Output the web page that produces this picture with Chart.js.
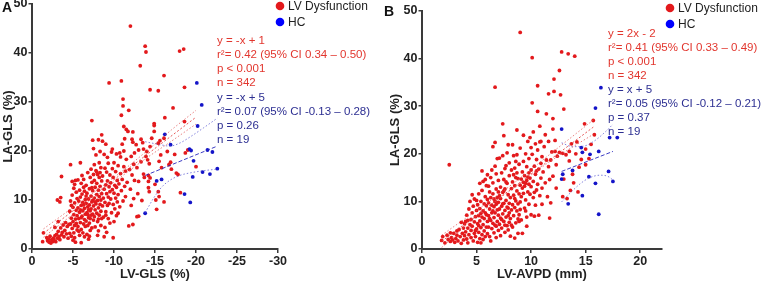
<!DOCTYPE html>
<html>
<head>
<meta charset="utf-8">
<script src="https://cdn.jsdelivr.net/npm/chart.js@4.4.1/dist/chart.umd.min.js"></script>
<style>
    body { margin: 0; background: #fff; width: 763px; height: 285px; overflow: hidden; position: relative; }
    canvas { position: absolute; top: 0; }
    #chartA { left: 0; }
    #chartB { left: 380px; }
</style>
</head>
<body>
<canvas id="chartA" width="380" height="285"></canvas>
<canvas id="chartB" width="383" height="285"></canvas>
<script>
// ======================
// Данные
// ======================

// Панель A: LV-GLS (%) против LA-GLS (%)
const lvdA = [
    [-1.3,1.5],[-1.4,3.3],[-1.8,2.3],[-1.9,1.7],[-2.0,2.0],[-2.1,1.4],[-2.2,2.6],[-2.3,1.2],[-2.4,1.9],[-2.5,1.5],
    [-2.6,2.2],[-2.7,1.8],[-2.8,2.7],[-2.9,1.5],[-3.0,3.0],[-3.1,2.2],[-3.2,3.6],[-3.3,2.5],[-3.4,1.9],[-3.5,4.3],
    [-3.6,2.9],[-3.7,3.4],[-3.8,4.9],[-3.9,2.5],[-4.0,3.8],[-4.1,5.4],[-4.2,3.1],[-4.3,4.6],[-4.4,2.2],[-4.5,5.0],
    [-3.1,10.0],[-3.4,9.6],[-3.6,14.8],[-3.5,10.5],[-3.2,5.6],[-2.8,4.4],
    [-4.6,3.2],[-4.6,7.7],[-4.7,5.1],[-4.7,9.8],[-4.8,2.6],[-4.8,6.3],[-4.9,4.2],[-4.9,11.0],[-5.0,5.6],[-5.0,8.5],
    [-5.1,3.3],[-5.1,7.0],[-5.1,12.4],[-5.2,4.8],[-5.2,9.4],[-5.3,6.1],[-5.3,1.4],[-5.3,14.0],[-5.4,7.9],[-5.4,5.2],
    [-5.5,10.3],[-5.5,3.9],[-5.5,6.8],[-4.7,17.2],[-5.2,13.2],[-4.9,13.8],[-5.0,1.8],[-5.4,11.6],[-4.8,8.9],[-5.2,2.3],
    [-5.6,8.4],[-5.6,4.6],[-5.6,14.1],[-5.7,6.2],[-5.7,9.8],[-5.8,2.8],[-5.8,7.5],[-5.8,12.0],[-5.9,5.4],[-5.9,17.6],
    [-5.9,10.6],[-6.0,1.3],[-6.0,8.9],[-6.0,4.0],[-6.0,13.4],[-6.1,6.7],[-6.1,11.2],[-6.2,3.3],[-6.2,7.8],[-6.2,9.5],
    [-6.3,5.1],[-6.3,14.2],[-6.3,12.6],[-6.4,8.3],[-6.4,6.0],[-6.4,2.5],[-6.5,10.1],[-6.5,4.6],[-6.5,7.1],[-6.1,15.0],
    [-5.7,3.6],[-6.3,9.0],[-6.0,6.4],[-5.9,8.0],[-6.4,11.8],
    [-6.6,9.3],[-6.6,5.7],[-6.6,13.0],[-6.7,7.4],[-6.7,3.0],[-6.7,11.4],[-6.8,8.6],[-6.8,4.8],[-6.8,15.6],[-6.9,6.4],
    [-6.9,10.2],[-6.9,2.0],[-7.0,9.0],[-7.0,12.3],[-7.0,5.3],[-7.1,7.8],[-7.1,14.6],[-7.1,3.8],[-7.2,10.8],[-7.2,6.9],
    [-7.2,8.2],[-7.3,9.6],[-7.3,4.3],[-7.3,26.2],[-7.3,13.6],[-7.4,22.2],[-7.4,7.1],[-7.4,11.9],[-7.5,20.5],[-7.5,8.8],
    [-7.5,5.9],[-7.5,15.2],[-6.8,7.0],[-7.0,2.6],[-7.2,16.3],[-7.4,9.9],[-6.6,10.8],[-7.1,6.2],[-7.3,12.5],[-6.9,8.0],
    [-7.6,10.4],[-7.6,6.6],[-7.6,14.0],[-7.7,8.0],[-7.7,12.6],[-7.7,4.5],[-7.8,9.2],[-7.8,16.0],[-7.8,19.2],[-7.9,7.3],
    [-7.9,11.1],[-7.9,13.4],[-8.0,5.6],[-8.0,9.9],[-8.0,15.2],[-8.1,8.4],[-8.1,12.0],[-8.1,22.3],[-8.1,3.7],[-8.2,6.9],
    [-8.2,10.7],[-8.2,14.6],[-8.3,19.9],[-8.3,9.1],[-8.3,12.8],[-8.4,7.7],[-8.4,16.6],[-8.4,4.8],[-8.5,11.3],[-8.5,23.3],
    [-8.5,13.9],[-8.5,6.2],[-7.6,17.2],[-8.0,2.8],[-8.2,17.6],[-7.9,15.7],[-8.4,10.0],[-7.7,9.6],[-8.1,6.1],[-8.3,15.6],
    [-8.6,8.8],[-8.6,22.0],[-8.6,14.9],[-8.7,10.4],[-8.7,6.5],[-8.8,12.2],[-8.8,19.3],[-8.9,16.5],[-8.9,9.5],[-8.9,4.4],
    [-9.0,13.1],[-9.0,7.6],[-9.0,21.4],[-9.1,11.3],[-9.1,15.7],[-9.1,3.4],[-9.2,8.9],[-9.2,13.9],[-9.3,10.6],[-9.3,6.2],
    [-9.3,17.5],[-9.4,12.7],[-9.4,33.9],[-9.4,9.3],[-9.5,15.1],[-9.5,5.3],[-9.5,11.7],[-8.8,2.5],[-9.2,18.7],[-9.0,6.9],
    [-9.6,13.5],[-9.6,10.2],[-9.7,19.8],[-9.7,7.4],[-9.8,16.4],[-9.8,12.1],[-9.8,20.4],[-9.9,14.6],[-9.9,9.1],[-9.9,2.3],
    [-10.0,11.4],[-10.0,17.6],[-10.0,5.6],[-10.1,13.0],[-10.1,8.2],[-10.2,15.8],[-10.2,10.4],[-10.3,19.4],[-10.3,12.6],[-10.3,6.8],
    [-10.4,14.0],[-10.4,9.6],[-10.5,17.0],[-10.5,11.1],[-10.5,7.3],
    [-10.6,13.3],[-10.7,19.6],[-10.7,8.6],[-10.8,15.4],[-10.8,18.8],[-10.9,34.3],[-10.9,11.9],[-10.9,27.3],[-11.0,14.2],[-11.0,21.4],
    [-11.1,30.6],[-11.1,29.2],[-11.1,9.8],[-11.2,16.8],[-11.2,25.0],[-11.2,20.0],[-11.3,12.8],[-11.4,15.9],[-11.4,10.7],[-11.5,24.4],
    [-11.5,18.3],[-11.3,22.5],
    [-11.6,13.6],[-11.7,24.0],[-11.8,28.3],[-11.8,4.7],[-11.9,16.2],[-12.0,45.5],[-12.0,12.2],[-12.1,18.9],[-12.2,22.4],[-12.2,15.1],
    [-12.3,23.9],[-12.3,21.8],[-12.3,5.0],[-12.4,17.3],[-12.4,10.3],[-12.5,14.0],[-12.5,19.6],[-12.1,8.9],
    [-12.7,21.3],[-12.8,16.6],[-12.8,6.6],[-13.0,20.2],[-13.0,13.8],[-13.2,37.4],[-13.3,22.4],[-13.3,17.8],[-13.5,21.7],[-13.6,20.4],
    [-13.6,15.3],[-13.8,41.4],[-13.9,40.2],[-13.9,18.9],[-13.0,6.7],[-13.7,14.6],[-13.4,9.9],[-12.9,11.3],
    [-14.0,19.9],[-14.1,18.2],[-14.2,15.0],[-14.2,13.8],[-14.2,12.5],[-14.3,11.7],[-14.3,17.4],[-14.4,20.9],[-14.4,32.5],[-14.4,14.5],
    [-14.9,24.0],[-14.9,25.6],[-14.9,25.2],[-15.1,10.0],[-15.2,8.1],[-15.4,32.3],[-15.4,21.6],[-15.5,10.7],[-15.5,17.9],[-15.6,22.1],
    [-15.7,19.2],[-15.4,11.7],[-15.8,16.6],[-14.6,22.6],[-15.0,13.2],
    [-16.1,35.4],[-16.1,9.6],[-16.1,22.6],[-16.2,26.8],[-16.5,19.9],[-16.7,17.2],[-16.9,17.7],[-17.0,16.3],[-17.2,28.8],[-17.4,19.3],
    [-17.6,15.5],[-17.8,15.2],[-18.0,40.4],[-18.1,11.5],[-18.5,40.8],[-18.6,33.0],[-18.6,26.0],[-18.7,19.6],[-19.0,20.2],[-20.0,16.8]
];
const hcA = [
    [-20.1,33.9],[-20.7,29.4],[-20.2,25.1],[-16.2,23.4],[-16.9,21.3],[-19.2,20.4],[-19.4,20.1],[-21.4,20.2],[-22.0,19.8],[-22.6,16.4],
    [-21.7,15.3],[-20.8,15.7],[-19.6,14.7],[-15.8,14.2],[-15.2,13.9],[-18.6,11.2],[-19.3,9.5],[-13.8,7.3],[-19.7,18.0]
];
// линии регрессии и 95% ДИ (по точкам с рисунка)
const regLvdA  = [[-1.4,3.2],[-20.0,26.9]];
const ciHiLvdA = [[-1.4,4.1],[-5,8.5],[-8,12.1],[-11,15.9],[-14,20.0],[-17,24.3],[-20,28.3]];
const ciLoLvdA = [[-1.4,2.4],[-5,7.1],[-8,11.1],[-11,14.9],[-14,18.6],[-17,22.0],[-20,25.5]];
const regHcA   = [[-13.8,15.0],[-22.6,21.0]];
const ciHiHcA  = [[-13.8,21.9],[-15.6,21.3],[-16.8,21.0],[-18.0,21.6],[-19.4,23.0],[-20.9,24.7],[-22.6,26.7]];
const ciLoHcA  = [[-13.8,7.4],[-14.8,10.3],[-15.8,12.6],[-16.8,14.0],[-18.0,15.0],[-19.5,15.6],[-21.0,16.0],[-22.6,16.3]];
const statsLvdA = ['y = -x + 1', 'r²= 0.42 (95% CI 0.34 – 0.50)', 'p < 0.001', 'n = 342'];
const statsHcA  = ['y = -x + 5', 'r²= 0.07 (95% CI -0.13 – 0.28)', 'p = 0.26', 'n = 19'];
const xTicksA = [0, -5, -10, -15, -20, -25, -30];

// Панель B: LV-AVPD (mm) против LA-GLS (%)
const lvdB = [
    [1.8,1.8],[1.9,2.6],[2.1,1.3],[2.3,2.9],[2.4,2.0],[2.5,17.7],[2.6,1.6],[2.7,2.4],[2.8,1.9],[2.9,3.3],
    [3.0,1.4],[3.1,2.2],[3.2,2.9],[3.3,1.7],[3.4,4.1],[3.5,2.6],[3.6,5.6],[3.7,3.3],[3.8,1.9],[3.9,5.3],
    [3.9,2.8],[3.6,1.2],[3.2,3.8],[2.6,3.4],[3.8,4.4],
    [4.0,3.6],[4.0,5.8],[4.1,2.1],[4.1,7.1],[4.2,4.4],[4.2,1.3],[4.3,3.0],[4.3,8.4],[4.4,5.1],[4.4,10.0],
    [4.5,2.4],[4.5,6.2],[4.5,3.9],[4.6,7.6],[4.6,4.8],[4.7,1.7],[4.7,9.0],[4.8,3.3],[4.8,5.7],[4.8,10.5],
    [4.9,6.8],[4.9,2.6],[5.0,4.2],[5.0,8.1],[5.0,10.2],[4.2,6.0],[4.6,11.4],[4.9,3.9],
    [5.1,5.3],[5.1,1.4],[5.1,9.3],[5.2,3.5],[5.2,7.0],[5.2,11.6],[5.3,2.2],[5.3,5.9],[5.3,8.5],[5.4,4.5],
    [5.4,10.0],[5.4,1.3],[5.5,6.7],[5.5,16.4],[5.5,3.0],[5.5,12.3],[5.6,8.0],[5.6,5.1],[5.6,14.2],[5.7,9.5],
    [5.7,3.8],[5.7,6.4],[5.8,11.0],[5.8,2.6],[5.8,7.6],[5.9,4.6],[5.9,13.3],[5.9,9.1],[6.0,5.8],[6.0,10.4],
    [6.0,3.2],[6.0,15.6],[5.6,2.0],[5.9,7.2],[5.3,13.8],[5.8,14.6],[5.4,7.5],[5.2,4.9],
    [6.1,7.0],[6.1,9.7],[6.1,4.6],[6.2,12.0],[6.2,2.6],[6.2,8.4],[6.3,6.0],[6.3,10.8],[6.3,15.0],[6.4,4.3],
    [6.4,7.6],[6.4,9.2],[6.5,21.5],[6.5,5.4],[6.5,11.6],[6.5,13.9],[6.6,8.9],[6.6,3.4],[6.6,6.6],[6.7,22.4],
    [6.7,34.0],[6.7,10.0],[6.7,17.4],[6.7,7.6],[6.8,9.4],[6.8,4.8],[6.8,12.6],[6.8,15.8],[6.9,8.2],[6.9,5.8],
    [6.9,10.8],[7.0,7.1],[7.0,9.8],[7.0,3.9],[7.0,14.4],[6.1,13.2],[6.3,1.7],[6.6,10.5],[6.9,19.0],[6.2,6.4],
    [6.4,16.6],[6.8,2.4],[6.5,8.0],[6.7,5.0],[7.0,12.0],
    [7.1,8.4],[7.1,19.1],[7.1,5.2],[7.2,10.6],[7.2,6.5],[7.2,13.0],[7.3,4.4],[7.3,9.0],[7.3,16.0],[7.4,7.4],
    [7.4,26.3],[7.4,11.9],[7.4,19.6],[7.5,5.8],[7.5,9.6],[7.5,14.6],[7.5,23.8],[7.6,8.1],[7.6,3.5],[7.6,12.6],
    [7.7,6.7],[7.7,10.2],[7.7,17.5],[7.8,8.8],[7.8,4.9],[7.8,13.8],[7.9,7.0],[7.9,11.4],[7.9,21.9],[8.0,9.6],
    [8.0,5.6],[8.0,15.4],[8.0,18.1],[7.2,2.8],[7.5,12.2],[7.8,20.2],[7.3,6.2],[7.6,16.9],[7.9,4.0],[7.4,9.5],
    [7.7,14.1],[8.0,7.6],[7.1,11.2],[7.6,5.0],[7.9,8.6],
    [8.1,6.4],[8.1,10.8],[8.1,2.7],[8.2,8.2],[8.2,12.7],[8.2,16.6],[8.3,9.3],[8.3,4.6],[8.3,14.1],[8.4,7.0],
    [8.4,11.3],[8.4,19.6],[8.5,8.7],[8.5,2.3],[8.5,13.3],[8.5,17.0],[8.6,10.1],[8.6,5.5],[8.6,15.0],[8.7,25.0],
    [8.7,8.0],[8.7,12.2],[8.7,19.8],[8.8,9.5],[8.8,6.3],[8.8,14.8],[8.9,11.6],[8.9,17.8],[8.9,7.2],[9.0,45.5],
    [9.0,13.4],[9.0,9.9],[9.0,21.2],[8.2,5.0],[8.4,15.6],[8.6,18.4],[8.8,3.3],[8.3,21.9],[8.9,5.8],[8.5,10.6],
    [8.7,16.0],[9.0,8.3],
    [9.1,14.7],[9.1,11.0],[9.1,6.1],[9.2,16.2],[9.2,12.8],[9.2,3.3],[9.3,14.0],[9.3,23.9],[9.3,18.4],[9.4,13.2],
    [9.4,8.6],[9.4,15.4],[9.5,13.8],[9.5,10.3],[9.5,20.0],[9.6,14.4],[9.6,17.3],[9.6,6.7],[9.7,12.0],[9.7,22.6],
    [9.7,15.1],[9.8,13.6],[9.8,9.4],[9.8,19.0],[9.9,14.9],[9.9,23.4],[9.9,11.5],[10.0,16.6],[10.0,13.1],[10.0,7.2],
    [10.0,21.3],[9.3,11.7],[9.6,4.8],[9.8,16.0],[9.5,8.0],
    [10.1,40.2],[10.1,30.7],[10.1,19.9],[10.2,14.2],[10.2,10.8],[10.3,17.4],[10.3,6.9],[10.4,22.1],[10.4,15.7],[10.5,12.4],
    [10.5,18.8],[10.6,34.3],[10.6,28.9],[10.6,20.8],[10.6,13.6],[10.7,7.1],[10.7,16.8],[10.8,11.2],[10.8,22.5],[10.9,22.6],
    [10.9,18.0],[10.9,14.9],[11.0,19.4],[11.0,9.4],[11.0,12.8],[10.2,24.6],[10.4,9.2],[10.8,25.8],[10.5,16.4],[10.3,11.9],
    [11.1,16.2],[11.2,21.5],[11.3,13.9],[11.4,28.4],[11.4,18.7],[11.5,11.0],[11.6,22.6],[11.6,32.6],[11.6,17.3],[11.7,6.5],
    [11.7,14.6],[11.8,9.7],[11.8,18.7],[11.9,20.4],[12.0,27.4],[12.0,25.2],[12.0,15.3],[12.1,33.1],[12.1,35.7],[12.2,20.5],
    [12.3,17.7],[12.3,12.8],[12.4,19.5],[11.3,24.0],[12.2,22.8],
    [12.6,37.5],[12.6,20.3],[12.7,32.4],[12.8,41.4],[12.9,20.1],[12.9,11.0],[13.0,29.4],[13.0,14.7],[13.2,19.8],[13.3,10.6],
    [13.4,41.0],[13.5,20.5],[13.5,18.5],[13.6,12.3],[13.7,22.1],[13.9,13.9],[14.0,40.5],[14.1,20.0],[14.3,12.0],[14.4,17.2],
    [14.6,18.8],[14.9,26.3],[15.0,17.7],[15.3,19.0],[15.5,22.0],[15.7,27.0],[15.8,24.0],[15.0,21.0],[14.2,22.5],[13.8,15.7]
];
const hcB = [
    [16.4,33.9],[15.9,29.6],[12.8,25.2],[17.2,23.4],[17.9,23.4],[14.6,21.3],[14.7,20.3],[15.4,19.9],[16.2,20.5],[13.8,16.5],
    [12.9,15.7],[12.8,14.7],[17.1,16.3],[17.5,14.2],[15.9,13.8],[15.3,15.2],[14.7,11.2],[13.4,9.5],[16.2,7.3]
];
const regLvdB  = [[1.8,1.6],[15.7,25.6]];
const ciHiLvdB = [[1.8,2.9],[5,8.1],[8.5,14.0],[12,20.4],[15.7,27.1]];
const ciLoLvdB = [[1.8,0.3],[5,6.9],[8.5,13.0],[12,18.8],[15.7,24.1]];
const regHcB   = [[12.8,16.3],[17.5,20.5]];
const ciHiHcB  = [[12.8,22.3],[13.8,21.5],[14.8,21.6],[15.8,22.7],[16.8,24.6],[17.5,26.2]];
const ciLoHcB  = [[12.8,9.9],[13.6,11.8],[14.5,13.7],[15.3,14.9],[16.3,15.5],[17.0,15.3],[17.5,14.5]];
const statsLvdB = ['y = 2x - 2', 'r²= 0.41 (95% CI 0.33 – 0.49)', 'p < 0.001', 'n = 342'];
const statsHcB  = ['y = x + 5', 'r²= 0.05 (95% CI -0.12 – 0.21)', 'p = 0.37', 'n = 19'];
const xTicksB = [0, 5, 10, 15, 20];

const yTicks = [0, 10, 20, 30, 40, 50];
const legendLabels = ['LV Dysfunction', 'HC'];

// ======================
// Оформление
// ======================

const FONT = '"Liberation Sans", Arial, Helvetica, sans-serif';
const RED = '#e3191c';
const BLUE = '#1414c8';
const RED_TEXT = '#e2362e';
const BLUE_TEXT = '#2d2f92';
const AXIS = '#3a3a3a';

Chart.defaults.font.family = FONT;

const toPts = arr => arr.map(([x, y]) => ({ x, y }));

function pointSet(data, color) {
    return {
        data: toPts(data),
        backgroundColor: color,
        borderWidth: 0,
        pointRadius: 1.9,
        showLine: false
    };
}

function lineSet(data, color, dash, curved) {
    return {
        data: toPts(data),
        borderColor: color,
        borderWidth: 1,
        borderDash: dash,
        pointRadius: 0,
        showLine: true,
        fill: false,
        tension: curved ? 0.4 : 0,
        cubicInterpolationMode: curved ? 'monotone' : 'default'
    };
}

// Подписи, легенда и статистика поверх графика
function overlayPlugin(cfg) {
    return {
        id: 'overlay',
        afterDraw(chart) {
            const ctx = chart.ctx;
            ctx.save();
            ctx.textBaseline = 'middle';
            ctx.textAlign = 'left';

            // буква панели
            ctx.font = 'bold 14px ' + FONT;
            ctx.fillStyle = '#111';
            ctx.fillText(cfg.letter, cfg.letterX, cfg.letterY);

            // легенда
            ctx.font = '12px ' + FONT;
            [RED, '#0000ff'].forEach((c, i) => {
                const y = cfg.legendY + i * 16;
                ctx.beginPath();
                ctx.arc(cfg.legendX, y, 4.3, 0, Math.PI * 2);
                ctx.fillStyle = c;
                ctx.fill();
                ctx.fillStyle = '#222';
                ctx.fillText(legendLabels[i], cfg.legendX + 8, y + 0.5);
            });

            // статистика
            ctx.font = '11.5px ' + FONT;
            cfg.statsRed.forEach((t, i) => {
                ctx.fillStyle = RED_TEXT;
                ctx.fillText(t, cfg.statsX, cfg.redY + i * 13.8);
            });
            cfg.statsBlue.forEach((t, i) => {
                ctx.fillStyle = BLUE_TEXT;
                ctx.fillText(t, cfg.statsX, cfg.blueY + i * 13.8);
            });
            ctx.restore();
        }
    };
}

function makeScales(o) {
    const tickFont = { size: 12.5, weight: 'bold', family: FONT };
    const titleFont = { size: 13, weight: 'bold', family: FONT };
    return {
        x: {
            type: 'linear',
            min: o.xMin, max: o.xMax, reverse: o.reverse,
            ticks: { font: tickFont, color: '#222', padding: 1, maxRotation: 0, autoSkip: false },
            // деления берём из массива (ось B тянется до 22 без подписи)
            afterBuildTicks: s => { s.ticks = o.xTicks.map(v => ({ value: v })); },
            grid: { display: true, drawOnChartArea: false, drawTicks: true, tickLength: 4, color: AXIS, lineWidth: 1.5 },
            border: { display: true, color: AXIS, width: 2 },
            title: { display: true, text: o.xTitle, font: titleFont, color: '#222', padding: { top: 0, bottom: 3 } },
            afterFit: s => { s.height = o.xHeight; s.paddingLeft = 0; s.paddingRight = 0; }
        },
        y: {
            type: 'linear',
            min: 0, max: 50,
            ticks: { font: tickFont, color: '#222', padding: 1, autoSkip: false },
            afterBuildTicks: s => { s.ticks = yTicks.map(v => ({ value: v })); },
            grid: { display: true, drawOnChartArea: false, drawTicks: true, tickLength: 3.5, color: AXIS, lineWidth: 1.5 },
            border: { display: true, color: AXIS, width: 2 },
            title: { display: true, text: 'LA-GLS (%)', font: titleFont, color: '#222', padding: { top: o.yTitlePad, bottom: 0 } },
            afterFit: s => { s.width = o.yWidth; s.paddingTop = 0; s.paddingBottom = 0; }
        }
    };
}

function makeChart(id, sets, scaleOpts, padding, overlay) {
    new Chart(document.getElementById(id).getContext('2d'), {
        type: 'scatter',
        data: { datasets: sets },
        options: {
            responsive: false,
            animation: false,
            devicePixelRatio: 1,
            layout: { padding },
            scales: makeScales(scaleOpts),
            plugins: { legend: { display: false }, tooltip: { enabled: false } }
        },
        plugins: [overlayPlugin(overlay)]
    });
}

// ======================
// Панель A
// ======================

makeChart('chartA', [
    lineSet(regLvdA, 'rgba(226,60,60,0.85)', [2, 2], false),
    lineSet(ciHiLvdA, 'rgba(226,90,90,0.75)', [1.5, 2], true),
    lineSet(ciLoLvdA, 'rgba(226,90,90,0.75)', [1.5, 2], true),
    lineSet(regHcA, 'rgba(40,40,190,0.9)', [4, 2], false),
    lineSet(ciHiHcA, 'rgba(90,90,210,0.75)', [1.5, 2], true),
    lineSet(ciLoHcA, 'rgba(90,90,210,0.75)', [1.5, 2], true),
    pointSet(hcA, BLUE),
    pointSet(lvdA, RED)
], {
    xMin: -30, xMax: 0, reverse: true, xTitle: 'LV-GLS (%)', xTicks: xTicksA,
    xHeight: 36, yWidth: 32, yTitlePad: 1
}, { top: 4, right: 102, left: 0, bottom: 0 }, {
    letter: 'A', letterX: 2, letterY: 8,
    legendX: 280, legendY: 6,
    statsX: 217, redY: 41, blueY: 98,
    statsRed: statsLvdA, statsBlue: statsHcA
});

// ======================
// Панель B
// ======================

makeChart('chartB', [
    lineSet(regLvdB, 'rgba(226,60,60,0.85)', [2, 2], false),
    lineSet(ciHiLvdB, 'rgba(226,90,90,0.75)', [1.5, 2], true),
    lineSet(ciLoLvdB, 'rgba(226,90,90,0.75)', [1.5, 2], true),
    lineSet(regHcB, 'rgba(40,40,190,0.9)', [4, 2], false),
    lineSet(ciHiHcB, 'rgba(90,90,210,0.75)', [1.5, 2], true),
    lineSet(ciLoHcB, 'rgba(90,90,210,0.75)', [1.5, 2], true),
    pointSet(hcB, BLUE),
    pointSet(lvdB, RED)
], {
    xMin: 0, xMax: 22, reverse: false, xTitle: 'LV-AVPD (mm)', xTicks: xTicksB,
    xHeight: 36, yWidth: 42, yTitlePad: 8
}, { top: 11, right: 101, left: 0, bottom: 0 }, {
    letter: 'B', letterX: 4, letterY: 12,
    legendX: 290, legendY: 8,
    statsX: 228, redY: 34, blueY: 90,
    statsRed: statsLvdB, statsBlue: statsHcB
});
</script>
</body>
</html>
